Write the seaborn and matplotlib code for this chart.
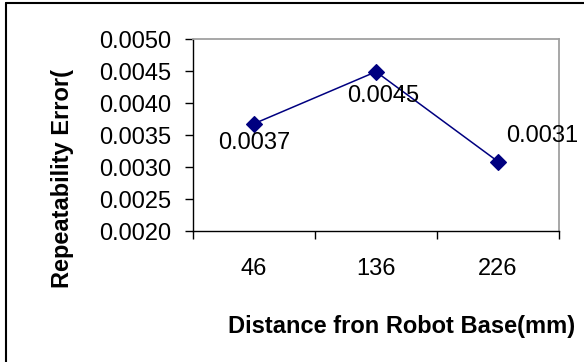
import matplotlib
matplotlib.use("Agg")
import matplotlib.pyplot as plt
import seaborn as sns
import pandas as pd
from matplotlib.lines import Line2D

# Data
distances = ["46", "136", "226"]
errors = [0.00368, 0.00449, 0.00309]
y_ticks = [0.0020, 0.0025, 0.0030, 0.0035, 0.0040, 0.0045, 0.0050]
x_label = "Distance fron Robot Base(mm)"
y_label = "Repeatability Error("

sns.set_theme(style="white")
plt.rcParams["font.family"] = ["Liberation Sans", "DejaVu Sans"]
plt.rcParams["text.color"] = "black"
plt.rcParams["xtick.color"] = "black"
plt.rcParams["ytick.color"] = "black"
plt.rcParams["axes.labelcolor"] = "black"

df = pd.DataFrame({"dist": distances, "err": errors})

W, H = 584, 362
fig = plt.figure(figsize=(W / 100, H / 100), dpi=100)
ax = fig.add_axes([193 / W, 1 - 231.5 / H, (559 - 193) / W, (231.5 - 39) / H])

navy = "#000080"
sns.pointplot(data=df, x="dist", y="err", ax=ax, color=navy, markers="D",
              linestyles="-", markersize=8.5, linewidth=1.1, errorbar=None)

FS = 17
ax.set_ylim(0.0020, 0.0050)
ax.set_yticks(y_ticks)
ax.set_yticklabels([f"{v:.4f}" for v in y_ticks], fontsize=FS)
ax.set_xlim(-0.5, 2.5)
ax.set_xticks([-0.5, 0.5, 1.5, 2.5])
ax.set_xticklabels([])
ax.set_xticks([0, 1, 2], minor=True)
ax.set_xticklabels(distances, minor=True, fontsize=FS)
ax.tick_params(axis="x", which="major", direction="out", length=6, width=1, color="black", bottom=True)
ax.tick_params(axis="x", which="minor", length=0, pad=19, labelcolor="black")
ax.tick_params(axis="y", direction="out", length=6, width=1, color="black", left=True, pad=10, labelcolor="black")
ax.set_xlabel("")
ax.set_ylabel("")

for side in ["left", "bottom"]:
    ax.spines[side].set_color("black")
    ax.spines[side].set_linewidth(1)
for side in ["top", "right"]:
    ax.spines[side].set_color("#a0a0a0")
    ax.spines[side].set_linewidth(1.3)

# data labels (offsets in points)
offsets = [(0, -14), (5, -17.5), (32, 18.5)]
for i, (v, off) in enumerate(zip(errors, offsets)):
    ax.annotate(f"{v:.4f}", (i, v), xytext=off, textcoords="offset points",
                ha="center", va="center", fontsize=FS, color="black")

fig.text(402 / W, 1 - 326 / H, x_label, ha="center", va="center",
         fontsize=FS, fontweight="bold", color="black")
fig.text(63 / W, 1 - 178 / H, y_label, ha="center", va="center",
         rotation=90, fontsize=FS, fontweight="bold", color="black")

# chart border (left and top visible)
fig.add_artist(Line2D([6 / W, 6 / W], [0, 1 - 3 / H], color="black", lw=1.5, transform=fig.transFigure))
fig.add_artist(Line2D([6 / W, 1], [1 - 3 / H, 1 - 3 / H], color="black", lw=1.5, transform=fig.transFigure))

fig.savefig("out.png", dpi=100)
